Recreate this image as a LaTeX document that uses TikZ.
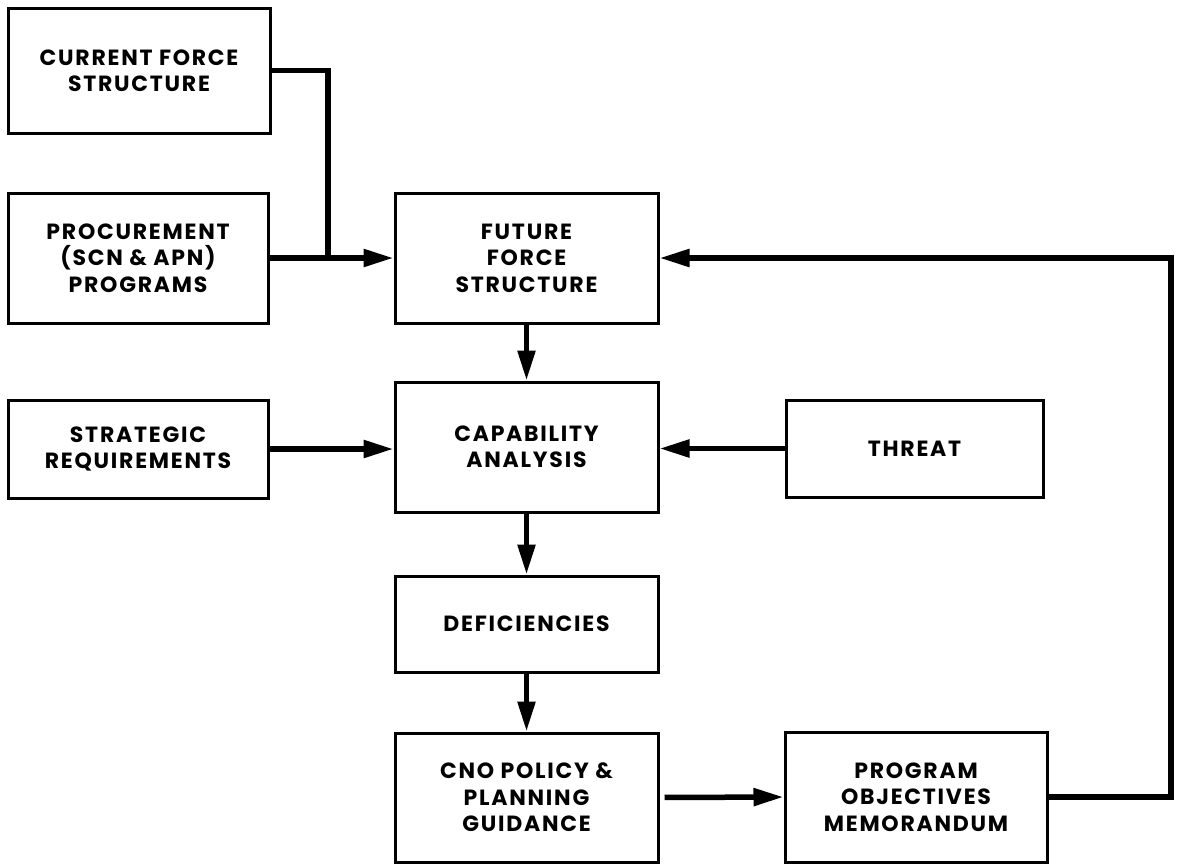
\documentclass[tikz,border=0pt]{standalone}
\usepackage{fontspec}
\setmainfont{Poppins}[LetterSpace=8]
\usetikzlibrary{arrows.meta}
\tikzset{
  blk/.style={draw, line width=3pt, minimum width=#1, inner sep=0pt, align=center,
    font=\fontsize{22}{26.5}\selectfont\bfseries},
  blk/.default=262pt,
  conn/.style={line width=5.5pt},
  arr/.style={conn, -{Triangle[length=30pt,width=17pt]}},
}
\begin{document}
\begin{tikzpicture}[x=1pt,y=-1pt]
\useasboundingbox (0,0) rectangle (1177,865);
\node[blk=262pt, minimum height=125pt] (cur) at (139,70.5) {CURRENT FORCE\\STRUCTURE};
\node[blk=260pt, minimum height=130pt] (proc) at (138,258) {PROCUREMENT\\(SCN \& APN)\\PROGRAMS};
\node[blk=260pt, minimum height=98pt] (strat) at (138,449) {STRATEGIC\\REQUIREMENTS};
\node[blk=263pt, minimum height=130pt] (fut) at (526.5,258) {FUTURE\\FORCE\\STRUCTURE};
\node[blk=263pt, minimum height=130pt] (cap) at (526.5,447) {CAPABILITY\\ANALYSIS};
\node[blk=257pt, minimum height=97pt] (thr) at (914.5,448.5) {THREAT};
\node[blk=263pt, minimum height=96pt] (def) at (526.5,624) {DEFICIENCIES};
\node[blk=263pt, minimum height=129pt] (cno) at (526.5,797.5) {CNO POLICY \&\\PLANNING\\GUIDANCE};
\node[blk=262pt, minimum height=130pt] (pom) at (916,797) {PROGRAM\\OBJECTIVES\\MEMORANDUM};
\coordinate (jn) at (328,258);
\coordinate (fb) at (1171,255);
\draw[conn, line join=miter] (cur.east) -| (jn);
\draw[arr] (proc.east) -- (fut.west);
\draw[arr] (fut.south) -- (cap.north);
\draw[arr] (strat.east) -- (strat.east -| cap.west);
\draw[arr] (thr.west) -- (thr.west -| cap.east);
\draw[arr] (cap.south) -- (def.north);
\draw[arr] (def.south) -- (cno.north);
\draw[arr, shorten <=5pt] (cno.east) -- (pom.west);
\draw[arr, line join=miter] (pom.east) -| (fb) |- (fut.east);
\end{tikzpicture}
\end{document}
